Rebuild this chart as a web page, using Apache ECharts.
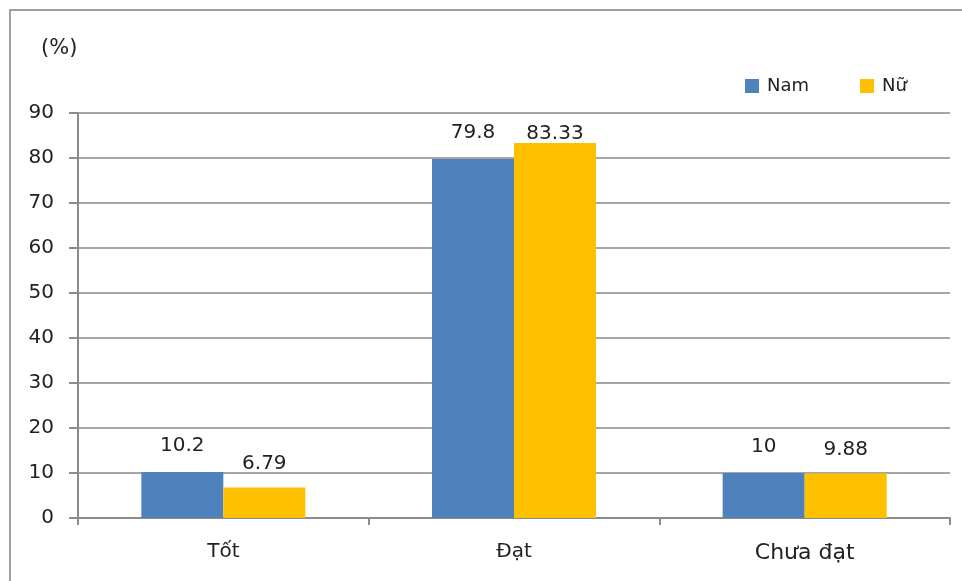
<!DOCTYPE html>
<html><head><meta charset="utf-8">
<script src="https://cdn.jsdelivr.net/npm/echarts@6/dist/echarts.min.js"></script>
<style>html,body{margin:0;padding:0;background:#fff}#c{width:962px;height:581px}</style>
</head><body><div id="c"></div>
<script>
const categories = ['Tốt', 'Đạt', 'Chưa đạt'];
const namValues = [10.2, 79.8, 10];
const nuValues = [6.79, 83.33, 9.88];
const seriesNames = ['Nam', 'Nữ'];
const yMin = 0, yMax = 90, yInterval = 10;

const FONT = 'DejaVu Sans';
const chart = echarts.init(document.getElementById('c'), null, {renderer: 'canvas'});
function mk(vals, specialIdx) {
  return vals.map((v, i) => i === specialIdx ? {value: v, label: {distance: -1}} : v);
}
chart.setOption({
  animation: false,
  backgroundColor: '#fff',
  textStyle: {fontFamily: FONT},
  graphic: [
    {type: 'rect', shape: {x: 10, y: 10, width: 1000, height: 700}, style: {fill: 'none', stroke: '#a0a0a0', lineWidth: 2}, z: -1},
    {type: 'text', left: 41, top: 38, style: {text: '(%)', font: '21px "DejaVu Sans"', fill: '#222'}}
  ],
  legend: {
    data: seriesNames, left: 740, top: 72, itemWidth: 14, itemHeight: 14, itemGap: 51,
    icon: 'rect', textStyle: {fontSize: 18, color: '#222', fontFamily: FONT, padding: [0, 0, 0, 3]}
  },
  grid: {left: 78, right: 12, top: 113, bottom: 63, containLabel: false},
  xAxis: {
    type: 'category', data: categories,
    axisLine: {lineStyle: {color: '#8c8c8c', width: 2}},
    axisTick: {show: true, length: 7, lineStyle: {color: '#8c8c8c', width: 2}},
    axisLabel: {fontSize: 20, color: '#222', margin: 24, fontFamily: FONT,
      formatter: v => v === 'Chưa đạt' ? '{b|' + v + '}' : v,
      rich: {b: {fontSize: 22, color: '#222', fontFamily: FONT}}}
  },
  yAxis: {
    type: 'value', min: yMin, max: yMax, interval: yInterval,
    axisLine: {show: true, lineStyle: {color: '#8c8c8c', width: 2}},
    axisTick: {show: true, length: 9, lineStyle: {color: '#8c8c8c', width: 2}},
    splitLine: {lineStyle: {color: '#a6a6a6', width: 2}},
    axisLabel: {fontSize: 20, color: '#222', margin: 24, fontFamily: FONT}
  },
  series: [
    {name: seriesNames[0], type: 'bar', data: mk(namValues, -1), barWidth: 82, barGap: '0%',
     itemStyle: {color: '#4F81BD'},
     label: {show: true, position: 'top', distance: 16, fontSize: 20, color: '#222', fontFamily: FONT}},
    {name: seriesNames[1], type: 'bar', data: mk(nuValues, 1), barWidth: 82, barGap: '0%',
     itemStyle: {color: '#FFC000'},
     label: {show: true, position: 'top', distance: 14, fontSize: 20, color: '#222', fontFamily: FONT}}
  ]
});
</script></body></html>
